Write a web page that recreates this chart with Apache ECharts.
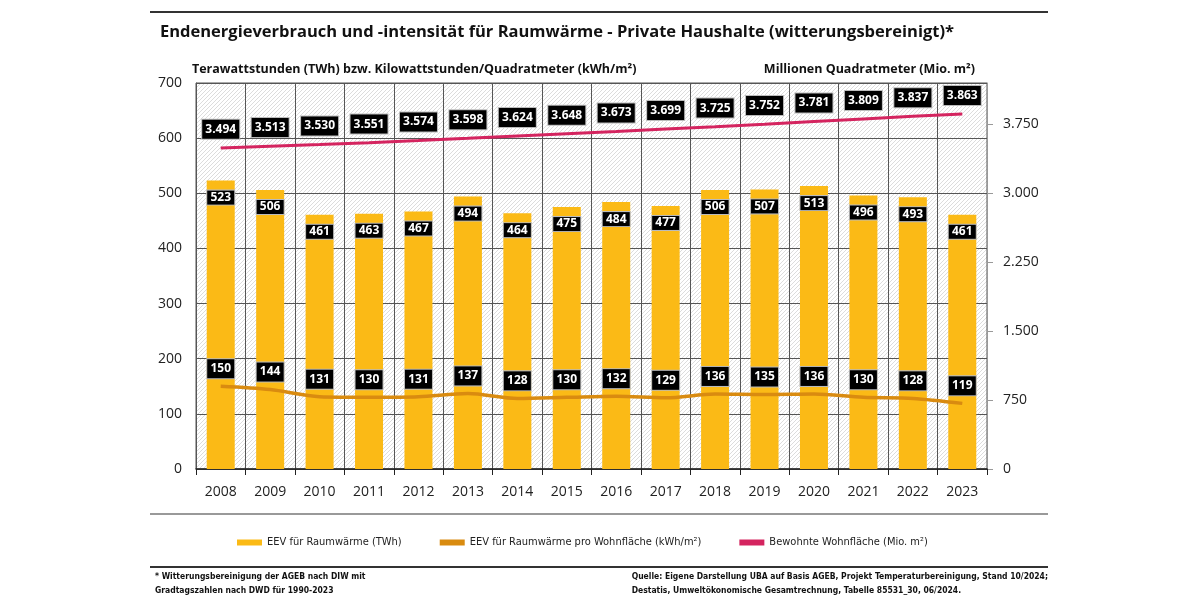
<!DOCTYPE html>
<html lang="de">
<head>
<meta charset="UTF-8">
<title>Endenergieverbrauch Raumwärme</title>
<style>
  html, body { margin: 0; padding: 0; background: #fff; }
  #main { width: 1200px; height: 602px; }
</style>
</head>
<body>
<div id="main"></div>
<script src="https://cdn.jsdelivr.net/npm/echarts@6/dist/echarts.min.js"></script>
<script>
const years = ['2008', '2009', '2010', '2011', '2012', '2013', '2014', '2015',
  '2016', '2017', '2018', '2019', '2020', '2021', '2022', '2023'];
// EEV für Raumwärme (TWh)
const eevTWh = [523, 506, 461, 463, 467, 494, 464, 475, 484, 477, 506, 507, 513, 496, 493, 461];
// EEV pro Wohnfläche (kWh/m²)
const eevPerArea = [150, 144, 131, 130, 131, 137, 128, 130, 132, 129, 136, 135, 136, 130, 128, 119];
// Bewohnte Wohnfläche (Mio. m²)
const livingArea = [3494, 3513, 3530, 3551, 3574, 3598, 3624, 3648, 3673, 3699, 3725, 3752, 3781, 3809, 3837, 3863];
const rightTicks = [0, 750, 1500, 2250, 3000, 3750];

const fmt = v => String(v).replace(/\B(?=(\d{3})+(?!\d))/g, '.');

// hatch pattern for plot background
const tile = document.createElement('canvas');
tile.width = 4; tile.height = 4;
const c = tile.getContext('2d');
c.fillStyle = '#fff';
c.fillRect(0, 0, 4, 4);
c.strokeStyle = '#d8d8d8';
c.lineWidth = 0.9;
c.beginPath();
c.moveTo(-1, 5); c.lineTo(5, -1);
c.moveTo(-1, 1); c.lineTo(1, -1);
c.moveTo(3, 5); c.lineTo(5, 3);
c.stroke();

const boxLabel = {
  show: true,
  color: '#fff',
  fontWeight: 'bold',
  fontSize: 12,
  fontFamily: 'Open Sans',
  backgroundColor: '#000',
  borderColor: '#bbb',
  borderWidth: 1,
  align: 'center'
};

const narrow = 'Liberation Sans Narrow, DejaVu Sans Condensed, sans-serif';

const chart = echarts.init(document.getElementById('main'));
chart.setOption({
  animation: false,
  textStyle: { fontFamily: 'Open Sans' },
  grid: {
    left: 196, right: 213, top: 83, bottom: 133,
    show: true,
    backgroundColor: { image: tile, repeat: 'repeat' },
    borderColor: '#555',
    borderWidth: 1
  },
  legend: {
    left: 232,
    top: 532,
    itemWidth: 25,
    itemHeight: 6,
    itemGap: 38,
    icon: 'rect',
    textStyle: { fontSize: 11, color: '#222', fontFamily: narrow },
    data: ['EEV für Raumwärme (TWh)', 'EEV für Raumwärme pro Wohnfläche (kWh/m²)', 'Bewohnte Wohnfläche (Mio. m²)']
  },
  graphic: [
    { type: 'line', shape: { x1: 150, y1: 12, x2: 1048, y2: 12 }, style: { stroke: '#333', lineWidth: 2 } },
    { type: 'text', left: 160, top: 24, style: { text: 'Endenergieverbrauch und -intensität für Raumwärme - Private Haushalte (witterungsbereinigt)*', fontSize: 16.5, fontWeight: 'bold', fill: '#111', fontFamily: 'Open Sans' } },
    { type: 'text', left: 192, top: 63, style: { text: 'Terawattstunden (TWh) bzw. Kilowattstunden/Quadratmeter (kWh/m²)', fontSize: 12.5, fontWeight: 'bold', fill: '#111', fontFamily: 'Open Sans' } },
    { type: 'text', right: 225, top: 63, style: { text: 'Millionen Quadratmeter (Mio. m²)', fontSize: 12.5, fontWeight: 'bold', fill: '#111', fontFamily: 'Open Sans' } },
    { type: 'line', shape: { x1: 150, y1: 514, x2: 1048, y2: 514 }, style: { stroke: '#777', lineWidth: 1.5 } },
    { type: 'line', shape: { x1: 150, y1: 567, x2: 1048, y2: 567 }, style: { stroke: '#333', lineWidth: 2 } },
    { type: 'text', left: 155, top: 570, style: { text: '* Witterungsbereinigung der AGEB nach DIW mit\nGradtagszahlen nach DWD für 1990-2023', fontSize: 8.5, lineHeight: 14, fontWeight: 'bold', fill: '#111', fontFamily: narrow } },
    { type: 'text', right: 152, top: 570, style: { text: 'Quelle: Eigene Darstellung UBA auf Basis AGEB, Projekt Temperaturbereinigung, Stand 10/2024;\nDestatis, Umweltökonomische Gesamtrechnung, Tabelle 85531_30, 06/2024.', align: 'right', fontSize: 8.5, lineHeight: 14, fontWeight: 'bold', fill: '#111', fontFamily: narrow } }
  ],
  xAxis: {
    type: 'category',
    data: years,
    axisLine: { lineStyle: { color: '#222', width: 1.5 } },
    axisTick: { show: true, length: 6, lineStyle: { color: '#222' } },
    axisLabel: { color: '#222', fontSize: 14, margin: 16 },
    splitLine: { show: true, lineStyle: { color: '#555', width: 1 } }
  },
  yAxis: [
    {
      type: 'value', min: 0, max: 700, interval: 100,
      axisLine: { show: true, lineStyle: { color: '#555' } },
      axisTick: { show: false },
      axisLabel: { color: '#222', fontSize: 14, margin: 14 },
      splitLine: { show: true, lineStyle: { color: '#555', width: 1 } }
    },
    {
      type: 'value', min: 0, max: 4200, interval: 750,
      position: 'right',
      axisLine: { show: true, lineStyle: { color: '#999' } },
      axisTick: { show: true, length: 6, customValues: rightTicks, lineStyle: { color: '#999' } },
      axisLabel: { color: '#222', fontSize: 14, margin: 16, customValues: rightTicks, formatter: v => fmt(v) },
      splitLine: { show: false }
    }
  ],
  series: [
    {
      name: 'EEV für Raumwärme (TWh)',
      type: 'bar',
      data: eevTWh,
      barWidth: 28,
      itemStyle: { color: '#FBBA16' },
      z: 2,
      label: Object.assign({}, boxLabel, {
        position: 'insideTop', distance: 10,
        width: 27, padding: [1, 0], lineHeight: 12
      })
    },
    {
      name: 'EEV für Raumwärme pro Wohnfläche (kWh/m²)',
      type: 'line',
      data: eevPerArea,
      smooth: 0.3,
      symbol: 'circle',
      symbolSize: 0.1,
      itemStyle: { color: '#D98B10' },
      lineStyle: { color: '#D98B10', width: 3.5 },
      z: 3,
      label: Object.assign({}, boxLabel, {
        position: 'top', distance: 8,
        width: 27, padding: [3, 0], lineHeight: 13
      })
    },
    {
      name: 'Bewohnte Wohnfläche (Mio. m²)',
      type: 'line',
      yAxisIndex: 1,
      data: livingArea,
      symbol: 'circle',
      symbolSize: 0.1,
      itemStyle: { color: '#D4245F' },
      lineStyle: { color: '#D4245F', width: 3 },
      z: 3,
      label: Object.assign({}, boxLabel, {
        position: 'top', distance: 9,
        width: 37, padding: [3, 0], lineHeight: 13,
        formatter: p => fmt(p.value)
      })
    }
  ]
});
</script>
</body>
</html>
